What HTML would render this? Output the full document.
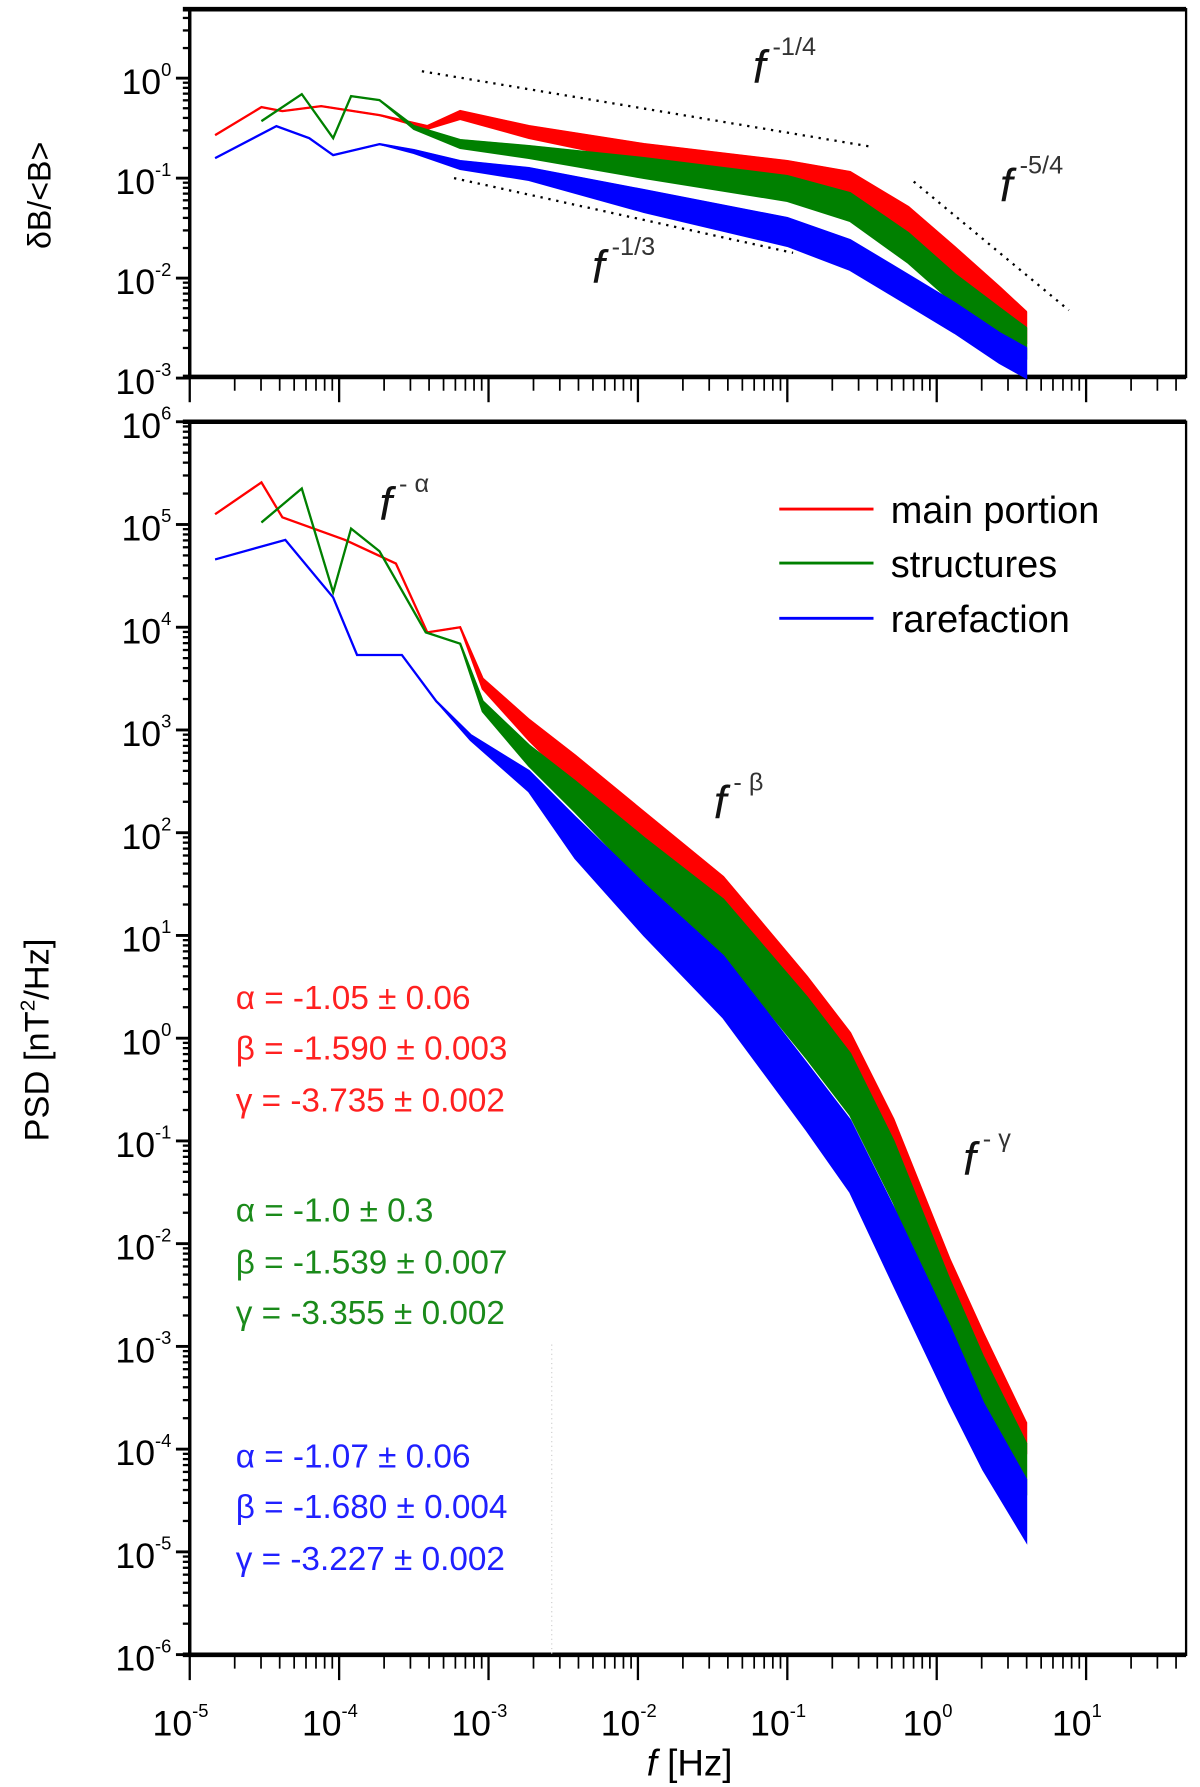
<!DOCTYPE html>
<html><head><meta charset="utf-8"><style>
html,body{margin:0;padding:0;background:#fff;}
svg{display:block;}
text{font-family:"Liberation Sans",Arial,sans-serif;}
</style></head><body>
<svg id="chart" width="1200" height="1787" viewBox="0 0 1044 1555" xmlns="http://www.w3.org/2000/svg">
<g id="top-panel"></g>
<g id="bot-panel"></g>
</svg>
<script>
// ---------- data (log10 values) ----------
const xDecades = [-5,-4,-3,-2,-1,0,1];
const topYDecades = [0,-1,-2,-3];
const botYDecades = [6,5,4,3,2,1,0,-1,-2,-3,-4,-5,-6];

// top panel: dB/<B>
const topRedF  = [-4.83,-4.52,-4.38,-4.12,-3.73,-3.41,-3.19,-2.73,-1.96,-1.0,-0.58,-0.19,0.12,0.42,0.6];
const topRedV  = [-0.57,-0.29,-0.33,-0.28,-0.37,-0.48,-0.33,-0.48,-0.66,-0.83,-0.94,-1.29,-1.69,-2.09,-2.34];
const topRedS  = [0,0,0,0,0,0.03,0.08,0.12,0.18,0.22,0.25,0.28,0.3,0.3,0.3];
const topGreenF= [-4.52,-4.25,-4.04,-3.92,-3.73,-3.5,-3.19,-2.73,-1.96,-1.0,-0.58,-0.19,0.12,0.42,0.6];
const topGreenV= [-0.43,-0.16,-0.6,-0.18,-0.22,-0.48,-0.62,-0.68,-0.8,-0.98,-1.15,-1.55,-1.96,-2.3,-2.5];
const topGreenS= [0,0,0,0,0,0.03,0.08,0.12,0.2,0.25,0.28,0.3,0.3,0.3,0.3];
const topBlueF = [-4.83,-4.42,-4.2,-4.04,-3.73,-3.5,-3.19,-2.73,-1.96,-1.0,-0.58,-0.19,0.12,0.42,0.6];
const topBlueV = [-0.8,-0.48,-0.6,-0.77,-0.66,-0.72,-0.83,-0.9,-1.12,-1.4,-1.62,-1.97,-2.25,-2.55,-2.7];
const topBlueS = [0,0,0,0,0,0.03,0.08,0.12,0.22,0.28,0.3,0.3,0.3,0.3,0.3];

// bottom panel: PSD
const botRedF  = [-4.83,-4.52,-4.38,-3.96,-3.62,-3.41,-3.19,-3.04,-2.73,-2.42,-1.96,-1.43,-0.87,-0.58,-0.29,0.085,0.31,0.6];
const botRedV  = [5.1,5.41,5.07,4.85,4.62,3.95,4.0,3.5,3.1,2.75,2.2,1.57,0.6,0.05,-0.79,-2.15,-2.87,-3.75];
const botRedS  = [0,0,0,0,0,0,0,0.1,0.2,0.3,0.3,0.3,0.3,0.3,0.3,0.3,0.3,0.3];
const botGreenF= [-4.52,-4.25,-4.04,-3.92,-3.73,-3.42,-3.19,-3.04,-2.73,-2.42,-1.96,-1.43,-0.87,-0.58,-0.29,0.085,0.31,0.6];
const botGreenV= [5.02,5.35,4.34,4.96,4.74,3.95,3.84,3.28,2.85,2.5,1.95,1.35,0.4,-0.15,-1.0,-2.35,-3.1,-3.95];
const botGreenS= [0,0,0,0,0,0,0,0.1,0.2,0.3,0.45,0.55,0.6,0.6,0.6,0.55,0.5,0.5];
const botBlueF = [-4.83,-4.36,-4.04,-3.88,-3.58,-3.35,-3.12,-2.73,-2.42,-1.96,-1.43,-0.87,-0.58,-0.29,0.085,0.31,0.6];
const botBlueV = [4.66,4.85,4.29,3.73,3.73,3.28,2.95,2.6,2.15,1.5,0.8,-0.25,-0.8,-1.65,-2.8,-3.55,-4.3];
const botBlueS = [0,0,0,0,0,0,0.05,0.2,0.4,0.5,0.6,0.65,0.7,0.75,0.75,0.65,0.6];

// ---------- axes ----------
const NS="http://www.w3.org/2000/svg";
const X0=165, XDEC=130, XR=1032;
function xs(lf){return X0+(lf+5)*XDEC;}
const TOP={top:8,bottom:328,y0:68,dec:87};
const BOT={top:367,bottom:1440,y0:367,dec:89.4};
function ysTop(v){return TOP.y0-v*TOP.dec;}
function ysBot(v){return BOT.y0+(6-v)*BOT.dec;}
function el(tag,attrs,parent){const e=document.createElementNS(NS,tag);for(const k in attrs)e.setAttribute(k,attrs[k]);parent.appendChild(e);return e;}

function drawFrame(g,p,ys,ydec,name){
  const L=X0,R=XR;
  const box=el('rect',{x:L,y:p.top,width:R-L,height:p.bottom-p.top,fill:'none',stroke:'#000','stroke-width':2},g);
  
  
  el('line',{x1:L-6,y1:p.top,x2:R,y2:p.top,stroke:'#000','stroke-width':4},g);
  el('line',{x1:L-6,y1:p.bottom,x2:R,y2:p.bottom,stroke:'#000','stroke-width':4},g);
  el('line',{x1:L,y1:p.top,x2:L,y2:p.bottom,stroke:'#000','stroke-width':3},g);
  for(let d=-5;d<=1;d++){
    el('line',{x1:xs(d),y1:p.bottom,x2:xs(d),y2:p.bottom+22,stroke:'#000','stroke-width':2},g);
    for(let m=2;m<=9;m++){const x=xs(d+Math.log10(m));if(x<R)el('line',{x1:x,y1:p.bottom,x2:x,y2:p.bottom+12,stroke:'#000','stroke-width':1.5},g);}
  }
  const lo=Math.min(...ydec),hi=Math.max(...ydec);
  for(let d=lo;d<=hi+1;d++){
    const y=ys(d);
    if(y>=p.top-1&&y<=p.bottom+1)el('line',{x1:L-12,y1:y,x2:L,y2:y,stroke:'#000','stroke-width':2.5},g);
    for(let m=2;m<=9;m++){const yy=ys(d+Math.log10(m));if(yy>=p.top&&yy<=p.bottom)el('line',{x1:L-6,y1:yy,x2:L,y2:yy,stroke:'#000','stroke-width':2},g);}
  }
  ydec.forEach(d=>{
    const t=el('text',{x:L-16,y:ys(d)+14,'text-anchor':'end','font-size':31,fill:'#000'},g);
    
    
    t.textContent='10';
    const s=el('tspan',{dy:-16,'font-size':16},t);s.textContent=String(d);
  });
}

function drawSeries(g,F,V,S,ys,color,name){
  let up=[],dn=[];
  for(let i=0;i<F.length;i++){up.push(xs(F[i])+','+ys(V[i]));}
  for(let i=F.length-1;i>=0;i--){dn.push(xs(F[i])+','+ys(V[i]-S[i]));}
  const band=el('polygon',{points:up.concat(dn).join(' '),fill:color,stroke:color,'stroke-width':1.5},g);
  
  
  const line=el('polyline',{points:up.join(' '),fill:'none',stroke:color,'stroke-width':2},g);
  
  
}

function fLabel(g,x,y,sup,name,size){
  const t=el('text',{x:x,y:y,'font-size':size||40,'font-style':'italic',fill:'#111'},g);
  
  
  t.textContent='f';
  const s=el('tspan',{dy:-24,dx:6,'font-size':22,'font-style':'normal',fill:'#333'},t);s.textContent=sup;
}

const gT=document.getElementById('top-panel');
const gB=document.getElementById('bot-panel');
drawFrame(gT,TOP,ysTop,topYDecades,'top-panel');
drawFrame(gB,BOT,ysBot,botYDecades,'bottom-panel');

drawSeries(gT,topRedF,topRedV,topRedS,ysTop,'#ff0000','top-main-portion');
drawSeries(gT,topGreenF,topGreenV,topGreenS,ysTop,'#008000','top-structures');
drawSeries(gT,topBlueF,topBlueV,topBlueS,ysTop,'#0000ff','top-rarefaction');
drawSeries(gB,botRedF,botRedV,botRedS,ysBot,'#ff0000','psd-main-portion');
drawSeries(gB,botGreenF,botGreenV,botGreenS,ysBot,'#008000','psd-structures');
drawSeries(gB,botBlueF,botBlueV,botBlueS,ysBot,'#0000ff','psd-rarefaction');

[[367,62,760,128,'slope-1-4-line'],[395,155,690,220,'slope-1-3-line'],[795,158,930,270,'slope-5-4-line']].forEach(a=>{
  const l=el('line',{x1:a[0],y1:a[1],x2:a[2],y2:a[3],stroke:'#000','stroke-width':2,'stroke-dasharray':'2 5'},gT);
  
  
});
fLabel(gT,655,72,'-1/4','label-f-1-4');
fLabel(gT,870,175,'-5/4','label-f-5-4');
fLabel(gT,515,246,'-1/3','label-f-1-3');
fLabel(gB,330,452,'- α','label-f-alpha');
fLabel(gB,621,712,'- β','label-f-beta');
fLabel(gB,838,1022,'- γ','label-f-gamma');

el('line',{x1:480,y1:1170,x2:480,y2:1440,stroke:'#ccc','stroke-width':1,'stroke-dasharray':'1 3'},gB);

xDecades.forEach(d=>{
  const t=el('text',{x:xs(d)-8,y:1510,'text-anchor':'middle','font-size':31,fill:'#000'},gB);
  
  
  t.textContent='10';
  const s=el('tspan',{dy:-16,'font-size':16},t);s.textContent=String(d);
});
</script>
<svg style="position:absolute;left:0;top:0" width="1200" height="1787" viewBox="0 0 1044 1555" xmlns="http://www.w3.org/2000/svg">
  <text x="600" y="1545" text-anchor="middle" font-size="32" font-family="Liberation Sans, sans-serif"><tspan font-style="italic">f</tspan> [Hz]</text>
  <text transform="translate(44,170) rotate(-90)" text-anchor="middle" font-size="28" font-family="Liberation Sans, sans-serif">δB/&lt;B&gt;</text>
  <text transform="translate(42,905) rotate(-90)" text-anchor="middle" font-size="30" font-family="Liberation Sans, sans-serif">PSD [nT<tspan dy="-12" font-size="18">2</tspan><tspan dy="12">/Hz]</tspan></text>
  <g font-family="Liberation Sans, sans-serif" font-size="33">
    <line x1="678" y1="443" x2="760" y2="443" stroke="#ff0000" stroke-width="2.5"/>
    <text x="775" y="455">main portion</text>
    <line x1="678" y1="490" x2="760" y2="490" stroke="#008000" stroke-width="2.5"/>
    <text x="775" y="502">structures</text>
    <line x1="678" y1="538" x2="760" y2="538" stroke="#0000ff" stroke-width="2.5"/>
    <text x="775" y="550">rarefaction</text>
  </g>
  <g font-family="Liberation Sans, DejaVu Sans, sans-serif" font-size="29">
    <text x="205" y="878" fill="#ff2020">α = -1.05 ± 0.06</text>
    <text x="205" y="922" fill="#ff2020">β = -1.590 ± 0.003</text>
    <text x="205" y="967" fill="#ff2020">γ = -3.735 ± 0.002</text>
    <text x="205" y="1063" fill="#1a8a1a">α = -1.0 ± 0.3</text>
    <text x="205" y="1108" fill="#1a8a1a">β = -1.539 ± 0.007</text>
    <text x="205" y="1152" fill="#1a8a1a">γ = -3.355 ± 0.002</text>
    <text x="205" y="1277" fill="#2020ff">α = -1.07 ± 0.06</text>
    <text x="205" y="1321" fill="#2020ff">β = -1.680 ± 0.004</text>
    <text x="205" y="1366" fill="#2020ff">γ = -3.227 ± 0.002</text>
  </g>
</svg>
</body></html>
